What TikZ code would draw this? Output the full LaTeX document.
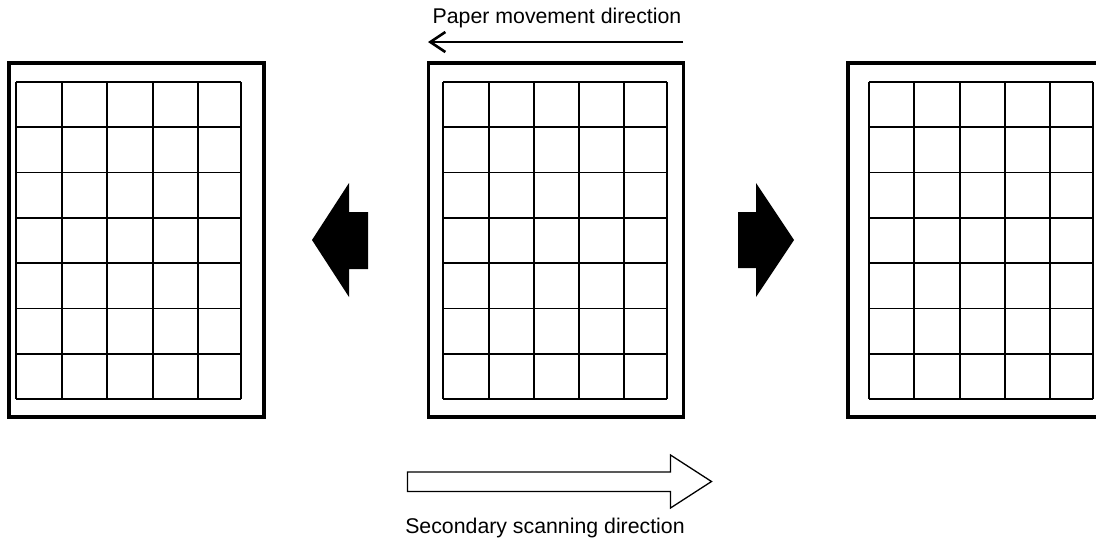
\documentclass[tikz,border=0pt]{standalone}
\usepackage{fontspec}
\setmainfont{Liberation Sans}
\usetikzlibrary{arrows.meta}

\tikzset{
  sheet/.style={draw, line width=3.2pt, minimum width=255pt, minimum height=354pt,
    anchor=north west, inner sep=0pt, outer sep=0pt},
  gridline/.style={line width=1.6pt},
  caption/.style={font=\fontsize{21.3}{25}\selectfont, anchor=base, inner sep=0pt},
  movearrow/.style={line width=2.6pt, -{Straight Barb[length=15pt,width=20pt,line width=2.6pt]}},
  solidarrow/.style={fill=black, draw=none},
  hollowarrow/.style={draw, line width=1.3pt, fill=white, line join=miter},
}

% cell grid of a sheet: column x-positions, top and bottom y, 7 rows
\newcommand{\cellgrid}[3]{%
  \foreach \gx in {#1} \draw[gridline] (\gx,#2) -- (\gx,#3);
  \foreach \k in {0,...,7} {
    \pgfmathsetmacro{\gy}{#2+(#3-#2)*\k/7}
    \draw[gridline] (\firstcol,\gy) -- (\lastcol,\gy);
  }%
}

\begin{document}
\begin{tikzpicture}[x=1pt,y=-1pt]
\useasboundingbox (0,0) rectangle (1096,539);
\clip (0,0) rectangle (1096,539);

% three sheets
\node[sheet] (leftsheet) at (9,63) {};
\node[sheet] (midsheet) at (428.5,63) {};
\node[sheet] (rightsheet) at (848,63) {};

% grids
\def\firstcol{16}\def\lastcol{241}
\cellgrid{16,62,107,153,198,241}{82}{399}
\def\firstcol{443}\def\lastcol{667}
\cellgrid{443,489,534,579,624,667}{82}{399}
\def\firstcol{869}\def\lastcol{1093}
\cellgrid{869,914,960,1005,1050,1093}{82}{399}

% paper movement
\node[caption] (movelabel) at (557,23) {Paper movement direction};
\coordinate (movestart) at (683,42);
\coordinate (moveend) at (428,42);
\draw[movearrow] (movestart) -- (moveend);

% block arrows between sheets
\fill[solidarrow] (312,240) -- (349,183) -- (349,212) -- (368,212) -- (368,269)
  -- (349,269) -- (349,297) -- cycle;
\fill[solidarrow] (794,240) -- (756,183) -- (756,212) -- (738,212) -- (738,268)
  -- (756,268) -- (756,297) -- cycle;

% secondary scanning
\draw[hollowarrow] (407.5,472) -- (670.5,472) -- (670.5,455) -- (711.5,481.5)
  -- (670.5,508) -- (670.5,491.5) -- (407.5,491.5) -- cycle;
\node[caption] (scanlabel) at (545,533) {Secondary scanning direction};
\end{tikzpicture}
\end{document}
